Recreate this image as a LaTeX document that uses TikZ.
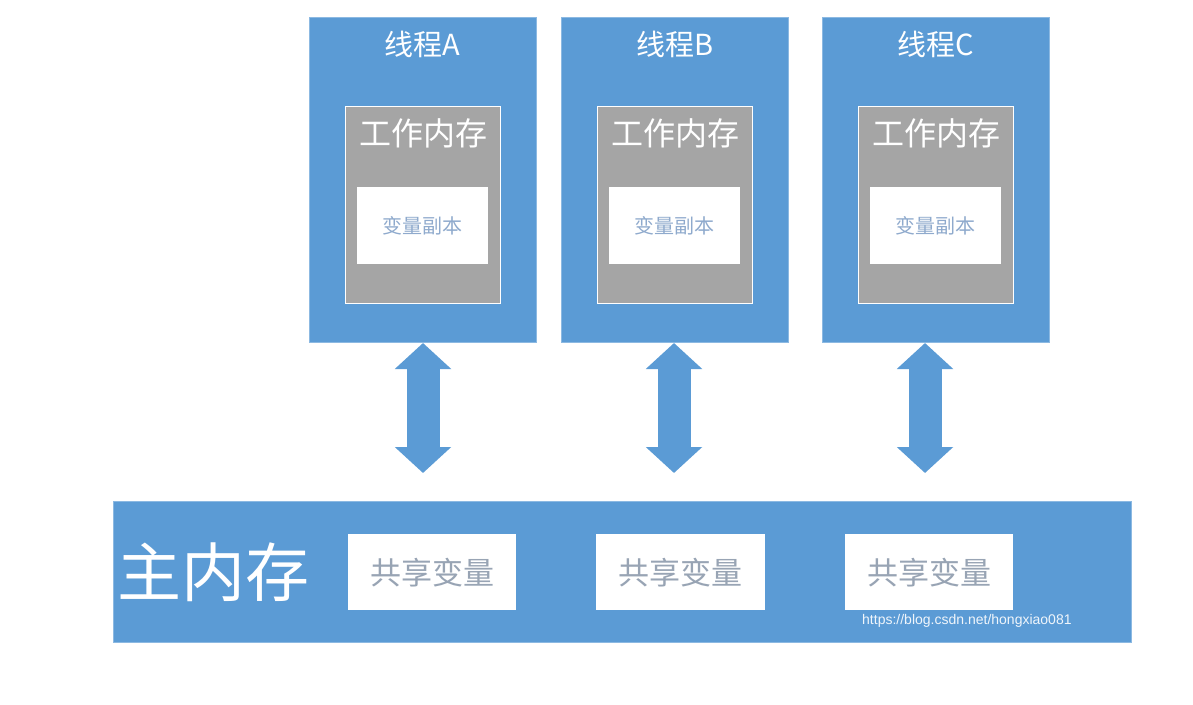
\documentclass[tikz,border=0pt]{standalone}
\usepackage{fontspec}
\setmainfont{Noto Sans CJK SC}
\newfontfamily\cjk{Noto Sans CJK SC}
\newfontfamily\wmfont{Liberation Sans}
\usetikzlibrary{arrows.meta}
\definecolor{tblue}{HTML}{5B9BD5}
\definecolor{tgray}{HTML}{A5A5A5}
\definecolor{copytxt}{HTML}{8FAACD}
\definecolor{sharetxt}{HTML}{98A4B4}
\tikzset{
  x=1pt,y=-1pt,
  threadbox/.style={fill=tblue,draw=tblue!70!white,line width=0.6pt,inner sep=0pt},
  workbox/.style={fill=tgray,draw=white,line width=1.2pt,inner sep=0pt},
  copybox/.style={fill=white,draw=none,inner sep=0pt,font=\cjk\fontsize{20}{22}\selectfont,text=copytxt},
  sharebox/.style={fill=white,draw=none,inner sep=0pt,font=\cjk\fontsize{31}{33}\selectfont,text=sharetxt},
  title/.style={text=white,font=\cjk\fontsize{29}{31}\selectfont,inner sep=0pt},
  worklabel/.style={text=white,font=\cjk\fontsize{32}{34}\selectfont,inner sep=0pt},
  bigarrow/.style={draw=tblue,line width=33pt,{Triangle[width=55pt,length=26pt]}-{Triangle[width=55pt,length=26pt]}},
}
\begin{document}
\begin{tikzpicture}
\useasboundingbox (0,0) rectangle (1193,704);
% thread boxes
\foreach \n/\xl/\lab in {A/309/线程A,B/561/线程B,C/822/线程C}{
  \node[threadbox,minimum width=227pt,minimum height=325pt,anchor=north west] (t\n) at (\xl,17) {};
  \node[title] (tt\n) at ([yshift=-27pt]t\n.north) {\lab};
  \node[workbox,minimum width=155pt,minimum height=197pt,anchor=north west] (w\n) at (\xl+36,106) {};
  \node[worklabel] (wl\n) at ([yshift=-27pt]w\n.north) {工作内存};
  \node[copybox,minimum width=131pt,minimum height=77pt,anchor=north west] (c\n) at (\xl+48,187) {变量副本};
}
% main memory
\node[threadbox,minimum width=1018pt,minimum height=141pt,anchor=north west] (mem) at (113,501) {};
\node[text=white,font=\cjk\fontsize{64}{66}\selectfont,inner sep=0pt,anchor=west] (memlab) at (117,572) {主内存};
\node[sharebox,minimum width=168pt,minimum height=76pt,anchor=north west] (s1) at (348,534) {共享变量};
\node[sharebox,minimum width=169pt,minimum height=76pt,anchor=north west] (s2) at (596,534) {共享变量};
\node[sharebox,minimum width=168pt,minimum height=76pt,anchor=north west] (s3) at (845,534) {共享变量};
\node[text=white!90!tblue,font=\wmfont\fontsize{14}{15}\selectfont,inner sep=0pt,anchor=west] (wm) at (862,621) {https://blog.csdn.net/hongxiao081};
% arrows
\coordinate (aA1) at (423,343); \coordinate (aA2) at (423,473);
\coordinate (aB1) at (674,343); \coordinate (aB2) at (674,473);
\coordinate (aC1) at (925,343); \coordinate (aC2) at (925,473);
\draw[bigarrow] (aA1) -- (aA2);
\draw[bigarrow] (aB1) -- (aB2);
\draw[bigarrow] (aC1) -- (aC2);
\end{tikzpicture}
\end{document}
